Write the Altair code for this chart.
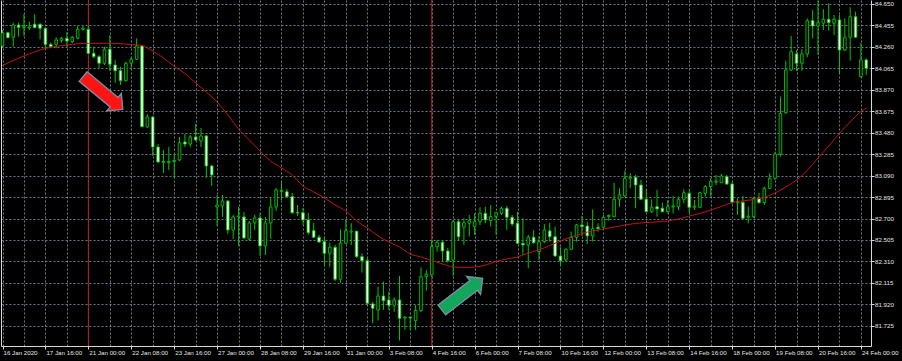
import altair as alt
import pandas as pd

# ---------------- data (H4 candles) ----------------
opens = [84.266, 84.386, 84.345, 84.456, 84.432, 84.429, 84.463, 84.463, 84.426, 84.281,
         84.281, 84.317, 84.335, 84.305, 84.335, 84.417, 84.417, 84.199, 84.169, 84.109,
         84.236, 84.093, 84.041, 83.951, 84.109, 84.145, 84.266, 83.531, 83.621, 83.349,
         83.208, 83.208, 83.218, 83.231, 83.395, 83.376, 83.440, 83.404, 83.449, 83.177,
         82.805, 82.814, 82.859, 82.596, 82.714, 82.714, 82.514, 82.660, 82.705, 82.451,
         82.660, 82.805, 82.945, 82.943, 82.898, 82.753, 82.753, 82.687, 82.590, 82.530,
         82.490, 82.385, 82.439, 82.149, 82.475, 82.576, 82.585, 82.354, 82.317, 81.925,
         81.870, 81.997, 81.961, 81.913, 81.961, 81.796, 81.805, 81.773, 81.864, 82.172,
         82.188, 82.444, 82.484, 82.405, 82.324, 82.671, 82.620, 82.657, 82.626, 82.671,
         82.747, 82.680, 82.717, 82.747, 82.793, 82.711, 82.657, 82.475, 82.460, 82.530,
         82.399, 82.490, 82.587, 82.535, 82.360, 82.324, 82.421, 82.530, 82.641, 82.632,
         82.542, 82.620, 82.620, 82.719, 82.717, 82.875, 82.905, 83.065, 83.074, 83.004,
         82.875, 82.762, 82.807, 82.793, 82.762, 82.805, 82.807, 82.875, 82.929, 82.803,
         82.802, 82.929, 82.989, 83.030, 83.025, 83.080, 83.013, 82.843, 82.847, 82.712,
         82.717, 82.884, 82.844, 82.974, 83.065, 83.286, 83.660, 84.048, 84.193, 84.109,
         84.193, 84.495, 84.447, 84.472, 84.508, 84.472, 84.502, 84.229, 84.345, 84.531,
         83.987, 84.139]
highs = [84.411, 84.395, 84.477, 84.477, 84.556, 84.486, 84.556, 84.472, 84.435, 84.296,
         84.345, 84.350, 84.395, 84.356, 84.447, 84.450, 84.447, 84.259, 84.184, 84.259,
         84.365, 84.139, 84.078, 84.123, 84.169, 84.335, 84.275, 83.649, 83.630, 83.376,
         83.322, 83.349, 83.286, 83.440, 83.467, 83.458, 83.558, 83.522, 83.458, 83.186,
         82.914, 82.914, 82.868, 82.732, 82.805, 82.759, 82.678, 82.732, 82.750, 82.714,
         82.886, 82.977, 83.032, 82.968, 82.932, 82.823, 82.796, 82.750, 82.660, 82.551,
         82.535, 82.481, 82.460, 82.602, 82.693, 82.657, 82.587, 82.385, 82.342, 81.945,
         82.082, 82.127, 82.036, 81.985, 82.179, 81.816, 81.810, 81.915, 82.258, 82.233,
         82.505, 82.505, 82.505, 82.433, 82.687, 82.687, 82.702, 82.732, 82.747, 82.802,
         82.807, 82.823, 82.762, 82.807, 82.814, 82.732, 82.762, 82.702, 82.551, 82.596,
         82.542, 82.650, 82.662, 82.626, 82.439, 82.430, 82.581, 82.650, 82.723, 82.671,
         82.784, 82.657, 82.732, 82.738, 83.025, 82.974, 83.134, 83.111, 83.095, 83.050,
         82.965, 82.875, 82.959, 82.844, 82.868, 82.905, 82.898, 82.965, 82.959, 82.868,
         82.943, 83.004, 83.065, 83.095, 83.104, 83.095, 83.034, 82.884, 82.905, 82.807,
         82.895, 82.934, 82.989, 83.111, 83.307, 83.806, 84.132, 84.356, 84.229, 84.236,
         84.517, 84.592, 84.678, 84.599, 84.653, 84.547, 84.547, 84.517, 84.617, 84.577,
         84.296, 84.154]
lows = [84.257, 84.335, 84.259, 84.350, 84.356, 84.411, 84.426, 84.326, 84.229, 84.245,
        84.245, 84.296, 84.259, 84.290, 84.326, 84.404, 84.193, 84.154, 84.063, 84.093,
        84.039, 83.933, 83.912, 83.942, 84.063, 84.139, 83.531, 83.522, 83.267, 83.204,
        83.113, 83.140, 83.068, 83.222, 83.349, 83.349, 83.404, 83.349, 83.068, 82.995,
        82.632, 82.714, 82.560, 82.514, 82.451, 82.514, 82.496, 82.596, 82.360, 82.369,
        82.514, 82.768, 82.868, 82.886, 82.741, 82.723, 82.641, 82.551, 82.523, 82.478,
        82.278, 82.258, 82.133, 82.118, 82.469, 82.460, 82.342, 82.209, 81.915, 81.749,
        81.773, 81.870, 81.870, 81.852, 81.592, 81.689, 81.689, 81.689, 81.852, 82.045,
        82.170, 82.399, 82.308, 82.299, 82.179, 82.505, 82.460, 82.535, 82.551, 82.641,
        82.657, 82.626, 82.551, 82.732, 82.596, 82.632, 82.469, 82.369, 82.248, 82.469,
        82.324, 82.478, 82.490, 82.351, 82.269, 82.315, 82.415, 82.490, 82.542, 82.469,
        82.490, 82.581, 82.608, 82.680, 82.711, 82.807, 82.895, 82.974, 82.793, 82.868,
        82.757, 82.750, 82.717, 82.757, 82.747, 82.747, 82.777, 82.838, 82.747, 82.777,
        82.796, 82.898, 82.898, 83.004, 83.020, 83.004, 82.832, 82.732, 82.696, 82.657,
        82.705, 82.832, 82.823, 82.968, 83.050, 83.261, 83.649, 84.039, 84.039, 84.041,
        84.163, 84.335, 84.184, 84.411, 84.404, 84.365, 84.018, 84.220, 84.132, 84.338,
        83.980, 84.002]
closes = [84.384, 84.341, 84.456, 84.435, 84.441, 84.438, 84.432, 84.426, 84.281, 84.259,
          84.320, 84.335, 84.311, 84.345, 84.417, 84.426, 84.199, 84.169, 84.109, 84.236,
          84.100, 84.041, 83.951, 84.109, 84.145, 84.266, 83.533, 83.621, 83.349, 83.213,
          83.218, 83.218, 83.227, 83.388, 83.376, 83.440, 83.413, 83.449, 83.177, 83.095,
          82.823, 82.859, 82.596, 82.714, 82.723, 82.523, 82.660, 82.705, 82.451, 82.660,
          82.805, 82.959, 82.954, 82.898, 82.753, 82.750, 82.687, 82.572, 82.530, 82.487,
          82.385, 82.439, 82.149, 82.475, 82.590, 82.585, 82.354, 82.317, 81.931, 81.886,
          81.997, 81.954, 81.913, 81.961, 81.795, 81.805, 81.798, 81.864, 82.172, 82.194,
          82.444, 82.484, 82.405, 82.317, 82.671, 82.535, 82.662, 82.680, 82.671, 82.747,
          82.687, 82.717, 82.753, 82.793, 82.711, 82.650, 82.475, 82.460, 82.530, 82.481,
          82.490, 82.596, 82.535, 82.360, 82.317, 82.421, 82.530, 82.641, 82.626, 82.542,
          82.608, 82.608, 82.711, 82.728, 82.875, 82.914, 83.065, 83.074, 83.004, 82.875,
          82.762, 82.802, 82.787, 82.762, 82.807, 82.814, 82.875, 82.934, 82.802, 82.812,
          82.934, 82.989, 83.038, 83.039, 83.086, 83.013, 82.847, 82.852, 82.702, 82.721,
          82.884, 82.844, 82.974, 83.065, 83.286, 83.655, 84.048, 84.214, 84.109, 84.193,
          84.495, 84.447, 84.477, 84.508, 84.477, 84.508, 84.229, 84.345, 84.531, 84.345,
          84.139, 84.063]

# moving average
ma_bar = [0, 4, 8, 12, 16, 20, 24, 26, 28, 30, 32, 34, 36, 38, 40, 42, 44, 46, 48, 50,
          52, 54, 56, 58, 60, 62, 64, 66, 68, 70, 72, 74, 76, 78, 80, 82, 84, 86, 88, 90,
          92, 94, 96, 98, 100, 102, 104, 106, 108, 110, 112, 114, 116, 118, 120, 122, 124,
          126, 128, 130, 132, 134, 136, 138, 140, 142, 144, 146, 148, 150, 152, 154, 156,
          158, 160, 161]
ma_value = [84.089, 84.175, 84.243, 84.275, 84.290, 84.290, 84.279, 84.270, 84.220, 84.157,
            84.080, 84.016, 83.930, 83.848, 83.757, 83.640, 83.512, 83.413, 83.313, 83.222,
            83.159, 83.095, 82.995, 82.941, 82.886, 82.823, 82.768, 82.678, 82.614, 82.542,
            82.487, 82.442, 82.378, 82.351, 82.319, 82.288, 82.260, 82.256, 82.260, 82.278,
            82.310, 82.333, 82.351, 82.387, 82.415, 82.455, 82.496, 82.533, 82.564, 82.587,
            82.605, 82.623, 82.641, 82.655, 82.664, 82.669, 82.678, 82.696, 82.723, 82.746,
            82.777, 82.809, 82.846, 82.859, 82.873, 82.891, 82.932, 82.986, 83.050, 83.136,
            83.249, 83.358, 83.472, 83.576, 83.671, 83.703]

y_ticks = [84.650, 84.455, 84.260, 84.065, 83.870, 83.675, 83.480, 83.285, 83.090,
           82.895, 82.700, 82.505, 82.310, 82.115, 81.920, 81.725]
x_label_bars = list(range(0, 161, 8))
x_labels = ["16 Jan 2020", "17 Jan 16:00", "21 Jan 00:00", "22 Jan 08:00", "23 Jan 16:00",
            "27 Jan 00:00", "28 Jan 08:00", "29 Jan 16:00", "31 Jan 00:00", "3 Feb 08:00",
            "4 Feb 16:00", "6 Feb 00:00", "7 Feb 08:00", "10 Feb 16:00", "12 Feb 00:00",
            "13 Feb 08:00", "14 Feb 16:00", "18 Feb 00:00", "19 Feb 08:00", "20 Feb 16:00",
            "24 Feb 00:00"]
x_grid_bars = list(range(0, 161, 4))
separator_bars = [16, 80]

arrow_bar = [18.73, 85.69]
arrow_price = [83.839, 82.013]
arrow_angle = [39.6, 322.3]
arrow_fill = ["#ff1414", "#13a65a"]

# ---------------- build tables ----------------
n = len(opens)
bars = pd.DataFrame({"i": list(range(n)), "open": opens, "high": highs,
                     "low": lows, "close": closes})
bars["dir"] = ["up" if c > o else "down" for o, c in zip(opens, closes)]
ma_df = pd.DataFrame({"i": ma_bar, "ma": ma_value})
sep_df = pd.DataFrame({"i": separator_bars})
arrows_df = pd.DataFrame({"i": arrow_bar, "p": arrow_price,
                          "angle": arrow_angle, "fill": arrow_fill})

FONT = "Liberation Sans"
FS = 6.2
TXT = "#e4e4e4"
FRAME = "#d8d8d8"
GRID = "#778899"
GREEN = "#00c800"

xscale = alt.Scale(domain=[-0.28, 161.88], nice=False, zero=False, padding=0)
yscale = alt.Scale(domain=[81.543, 84.683], nice=False, zero=False, padding=0)

# nested ternary label lookup: bar index -> date text
label_expr = "''"
for b, s in reversed(list(zip(x_label_bars, x_labels))):
    label_expr = "datum.value == " + str(b) + " ? '" + s + "' : (" + label_expr + ")"

x_grid_axis = alt.Axis(
    orient="bottom", values=x_grid_bars, title=None,
    grid=True, gridColor=GRID, gridDash=[2, 2], gridWidth=1, gridOpacity=0.9,
    domain=True, domainColor=FRAME, domainWidth=1,
    ticks=False, labels=False,
)
x_label_axis = alt.Axis(
    orient="bottom", values=x_label_bars, title=None,
    grid=False, domain=False,
    ticks=True, tickColor=FRAME, tickSize=3, tickWidth=1,
    labelExpr=label_expr,
    labelAlign="left", labelBaseline="top", labelPadding=0.5, labelOffset=0.5,
    labelFont=FONT, labelFontSize=FS, labelColor=TXT,
    labelOverlap=False, labelFlush=False, labelBound=False,
)
y_axis = alt.Axis(
    orient="right", values=y_ticks, format=".3f", title=None,
    grid=True, gridColor=GRID, gridDash=[2, 2], gridWidth=1, gridOpacity=0.9,
    domain=True, domainColor=FRAME, domainWidth=1,
    ticks=True, tickColor=FRAME, tickSize=3, tickWidth=1,
    labelAlign="left", labelBaseline="middle", labelPadding=0.5,
    labelFont=FONT, labelFontSize=FS, labelColor=TXT,
    labelOverlap=False, labelFlush=False, labelBound=False,
)
left_frame = alt.Axis(orient="left", title=None, labels=False, ticks=False, grid=False,
                      domain=True, domainColor=FRAME, domainWidth=1)

seps = alt.Chart(sep_df).mark_rule(color="#b3221c", strokeWidth=1).encode(
    x=alt.X("i:Q", scale=xscale, axis=None)
)

wicks = alt.Chart(bars).mark_rule(color=GREEN, strokeWidth=1).encode(
    x=alt.X("i:Q", scale=xscale, axis=x_grid_axis),
    y=alt.Y("low:Q", scale=yscale, axis=y_axis),
    y2="high:Q",
)

bodies = alt.Chart(bars).mark_bar(width=2.6, stroke=GREEN, strokeWidth=0.9).encode(
    x=alt.X("i:Q", scale=xscale, axis=x_label_axis),
    y=alt.Y("open:Q", scale=yscale, axis=None),
    y2="close:Q",
    fill=alt.Fill("dir:N", scale=alt.Scale(domain=["up", "down"],
                                            range=["#000000", "#ffffff"]), legend=None),
)

ma_line = alt.Chart(ma_df).mark_line(color="#c21414", strokeWidth=1, interpolate="monotone").encode(
    x=alt.X("i:Q", scale=xscale, axis=None),
    y=alt.Y("ma:Q", scale=yscale, axis=left_frame),
)

arrow_path = "M-1,-0.24L0.56,-0.24L0.56,-0.44L1,0L0.56,0.44L0.56,0.24L-1,0.24Z"
arrows = alt.Chart(arrows_df).mark_point(
    shape=arrow_path, filled=True, size=2650, stroke="#7d8aa3", strokeWidth=1.4, opacity=1
).encode(
    x=alt.X("i:Q", scale=xscale, axis=None),
    y=alt.Y("p:Q", scale=yscale, axis=None),
    angle=alt.Angle("angle:Q", scale=None),
    fill=alt.Fill("fill:N", scale=None),
)

chart = (
    alt.layer(seps, wicks, bodies, ma_line, arrows)
    .resolve_axis(x="independent", y="independent")
    .properties(
        width=870, height=346,
        padding={"left": 1, "top": 0, "right": 31, "bottom": 15},
        autosize=alt.AutoSizeParams(type="none"),
    )
    .configure(background="#000000")
    .configure_view(stroke=None)
)

chart.save("out.html", embed_options={"renderer": "svg", "actions": False})
